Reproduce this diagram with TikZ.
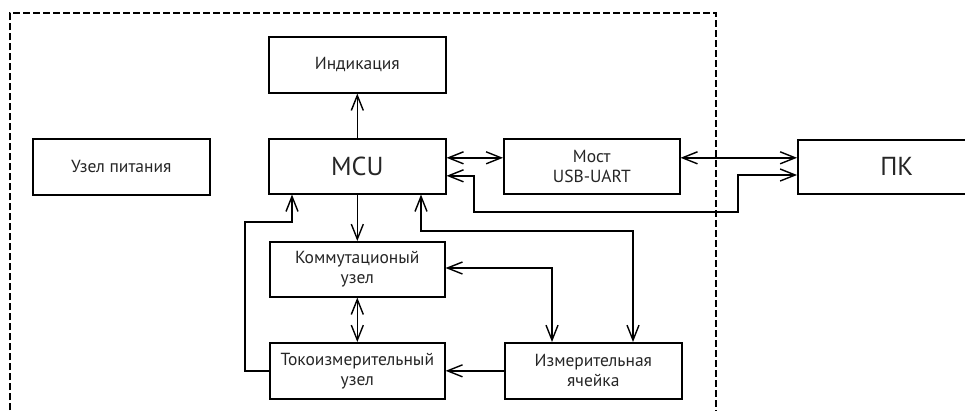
\documentclass[tikz,border=0pt]{standalone}
\usepackage{fontspec}
\setmainfont{PT Sans}
\usetikzlibrary{arrows.meta,calc}
\begin{document}
\begin{tikzpicture}[x=1pt,y=-1pt,
  blk/.style={draw, line width=1.6pt, rectangle, anchor=north west, inner sep=0pt,
    align=center, text=black!85, font=\fontsize{17.5}{20}\selectfont},
  big/.style={font=\fontsize{26}{28}\selectfont},
  con/.style={line width=1.4pt},
  arr/.style={con, -{Straight Barb[length=15pt,width=12pt,line width=1.4pt]}},
  dbl/.style={con, {Straight Barb[length=15pt,width=12pt,line width=1.4pt]}-{Straight Barb[length=15pt,width=12pt,line width=1.4pt]}},
  frame/.style={line width=1.4pt, dash pattern=on 7pt off 3pt}
]
\clip (0,0) rectangle (965,410);
\fill[white] (0,0) rectangle (965,410);
\draw[frame] (10,420) -- (10,13) -- (716,13) -- (716,420);

\node[blk, minimum width=177pt, minimum height=56pt] (ind) at (268,36) {Индикация};
\node[blk, minimum width=177pt, minimum height=56pt] (pit) at (32,138) {Узел питания};
\node[blk, big, minimum width=177pt, minimum height=55pt] (mcu) at (268,138) {MCU};
\node[blk, minimum width=176pt, minimum height=55pt] (most) at (503,138) {Мост\\USB-UART};
\node[blk, big, minimum width=198pt, minimum height=54pt] (pk) at (797,139) {ПК};
\node[blk, minimum width=175pt, minimum height=55pt] (komm) at (269,241) {Коммутационый\\узел};
\node[blk, minimum width=175pt, minimum height=56pt] (tok) at (269,342) {Токоизмерительный\\узел};
\node[blk, minimum width=177pt, minimum height=56pt] (izm) at (504,342) {Измерительная\\ячейка};

% MCU -> Индикация
\draw[arr] (mcu.north) -- (ind.south);
% MCU <-> Мост, Мост <-> ПК
\draw[dbl] ([yshift=8.5pt]mcu.east) -- ([yshift=8.5pt]mcu.east -| most.west);
\draw[dbl] ([yshift=8.5pt]most.east) -- ([yshift=8.5pt]most.east -| pk.west);
% MCU <-> ПК loop
\coordinate (l1) at (474,212);
\coordinate (l2) at (738,175);
\draw[dbl] ([yshift=-9.5pt]mcu.east) -| (l1) -| (l2) -- (l2 -| pk.west);
% MCU -> Коммутационый
\draw[arr] (mcu.south) -- (mcu.south |- komm.north);
% Токоизмерительный -> MCU
\coordinate (t1) at (245,222);
\coordinate (t2) at (292,222);
\draw[arr] (tok.west) -| (t1) -- (t2) -- (t2 |- mcu.south);
% MCU <-> Измерительная
\coordinate (m1) at (421,231);
\coordinate (m2) at (633,231);
\draw[dbl] (m1 |- mcu.south) -- (m1) -- (m2) -- (m2 |- izm.north);
% Коммутационый <-> Измерительная
\coordinate (k1) at (552,268);
\draw[dbl] (k1 -| komm.east) -- (k1) -- (k1 |- izm.north);
% Коммутационый <-> Токоизмерительный
\draw[dbl] (komm.south) -- (komm.south |- tok.north);
% Измерительная -> Токоизмерительный
\draw[arr] (izm.west) -- (izm.west -| tok.east);
\end{tikzpicture}
\end{document}
